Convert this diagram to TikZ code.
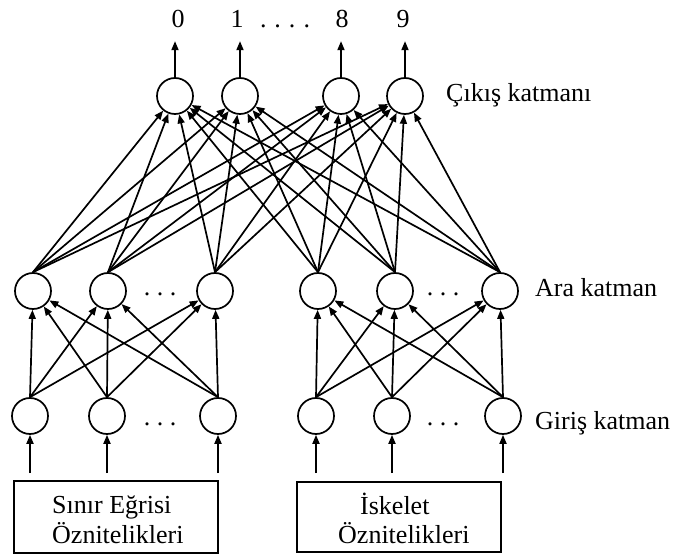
\documentclass[tikz,border=0pt]{standalone}
\usepackage{fontspec}
\setmainfont{Liberation Serif}
\usetikzlibrary{arrows.meta}
\begin{document}
\begin{tikzpicture}[x=1pt,y=-1pt,
  neuron/.style={circle,draw,line width=1.7pt,minimum size=36pt,inner sep=0pt},
  conn/.style={line width=1.7pt,-{Triangle[length=9pt,width=7pt]}},
  lbl/.style={font=\fontsize{26}{30}\selectfont,inner sep=0pt,anchor=base west},
  clbl/.style={font=\fontsize{26}{30}\selectfont,inner sep=0pt,anchor=base},
  featbox/.style={draw,line width=1.2pt,inner sep=0pt}]
\useasboundingbox (0,0) rectangle (675,556);
% output layer
\node[neuron] (o1) at (175,96) {};
\node[neuron] (o2) at (240,96) {};
\node[neuron] (o3) at (341,96) {};
\node[neuron] (o4) at (405,96) {};
% hidden layer
\node[neuron] (m1) at (33,291) {};
\node[neuron] (m2) at (108,291) {};
\node[neuron] (m3) at (215,291) {};
\node[neuron] (m4) at (318,291) {};
\node[neuron] (m5) at (395,291) {};
\node[neuron] (m6) at (500,291) {};
% input layer
\node[neuron] (i1) at (30,416) {};
\node[neuron] (i2) at (107,416) {};
\node[neuron] (i3) at (218,416) {};
\node[neuron] (i4) at (316,416) {};
\node[neuron] (i5) at (392,416) {};
\node[neuron] (i6) at (503,416) {};
% output labels
\node[clbl] (l0) at (178,28) {0};
\node[clbl] (l1) at (237,28) {1};
\node[clbl] (ld) at (285,28) {.\hspace{8pt}.\hspace{8pt}.\hspace{8pt}.};
\node[clbl] (l8) at (342,28) {8};
\node[clbl] (l9) at (403,28) {9};
\foreach \k in {1,...,4} {
  \coordinate (t\k) at ([yshift=36pt]o\k.north);
  \draw[conn] (o\k.north) -- (t\k);
}
% dots in layers
\node[clbl] (d1) at (160,295) {.\hspace{6.5pt}.\hspace{6.5pt}.};
\node[clbl] (d2) at (443,295) {.\hspace{6.5pt}.\hspace{6.5pt}.};
\node[clbl] (d3) at (160,425) {.\hspace{6.5pt}.\hspace{6.5pt}.};
\node[clbl] (d4) at (443,425) {.\hspace{6.5pt}.\hspace{6.5pt}.};
% layer names
\node[lbl] (nout) at (446,102) {Çıkış katmanı};
\node[lbl] (nhid) at (535,296) {Ara katman};
\node[lbl] (nin) at (535,429) {Giriş katman};
% hidden -> output
\foreach \m in {1,...,6} \foreach \o in {1,...,4}
  \draw[conn] (m\m.north) -- (o\o);
% input -> hidden
\foreach \a in {1,2,3} \foreach \b in {1,2,3}
  \draw[conn] (i\a.north) -- (m\b);
\foreach \a in {4,5,6} \foreach \b in {4,5,6}
  \draw[conn] (i\a.north) -- (m\b);
% feature boxes
\node[featbox,minimum width=204pt,minimum height=72pt] (b1) at (116,517) {};
\node[featbox,minimum width=204pt,minimum height=70pt] (b2) at (399,517) {};
\node[lbl] (b1a) at (52,513) {Sınır Eğrisi};
\node[lbl] (b1b) at (52,543) {Öznitelikleri};
\node[lbl] (b2a) at (360,514) {İskelet};
\node[lbl] (b2b) at (338,543) {Öznitelikleri};
\foreach \k in {1,...,6} {
  \coordinate (s\k) at (i\k.south |- 0,473);
  \draw[conn] (s\k) -- (i\k.south);
}
\end{tikzpicture}
\end{document}
